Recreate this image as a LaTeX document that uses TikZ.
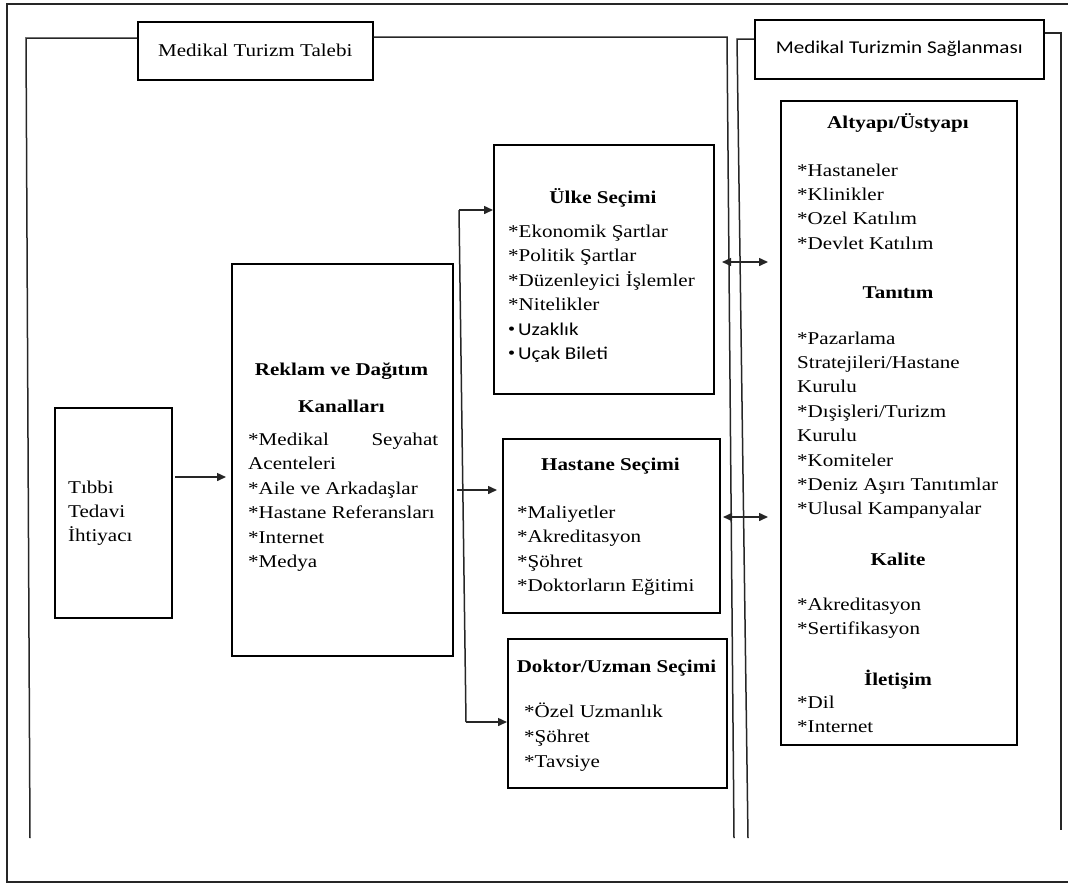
\documentclass[tikz,border=0pt]{standalone}
\usepackage{fontspec}
\setmainfont{Liberation Serif}[FakeStretch=1.17]
\newfontfamily\calsans{Carlito}[FakeStretch=1.17]
\usetikzlibrary{arrows.meta}
\tikzset{
  box/.style={draw=black, line width=1.5pt, inner sep=0pt, anchor=north west, font=\fontsize{18}{22}\selectfont},
  txt/.style={anchor=base west, inner sep=0pt, font=\fontsize{18}{22}\selectfont},
  ttl/.style={anchor=base, inner sep=0pt, font=\fontsize{18}{22}\selectfont\bfseries},
  ln/.style={line width=1.5pt, draw=black!85},
  arr/.style={ln, -{Triangle[length=9pt,width=8pt]}},
  arrtwo/.style={ln, {Triangle[length=9pt,width=8pt]}-{Triangle[length=9pt,width=8pt]}},
}
\begin{document}
\begin{tikzpicture}[x=1pt,y=-1pt]
\useasboundingbox (0,0) rectangle (1068,884);
% outer frame
\coordinate (of1) at (1075,4); \coordinate (of2) at (7,4);
\coordinate (of3) at (7,882); \coordinate (of4) at (1075,882);
\draw[ln] (of1) -- (of2) -- (of3) -- (of4);

% header boxes
\node[box, minimum width=235pt, minimum height=58pt] (talebi) at (137,21) {Medikal Turizm Talebi};
\node[box, minimum width=289pt, minimum height=59pt] (saglanma) at (754,19) {\calsans Medikal Turizmin Sağlanması};

% brackets
\coordinate (lbb) at (30,838); \coordinate (lbt) at (26,38);
\draw[ln] (lbb) -- (lbt) -- (lbt -| talebi.west);
\coordinate (lrt) at (727,37); \coordinate (lrb) at (734,838);
\draw[ln] (talebi.east |- lrt) -- (lrt) -- (lrb);
\coordinate (rlt) at (737,39); \coordinate (rlb) at (748,838);
\draw[ln] (rlb) -- (rlt) -- (rlt -| saglanma.west);
\coordinate (rrt) at (1061,33); \coordinate (rrb) at (1061,830);
\draw[ln] (saglanma.east |- rrt) -- (rrt) -- (rrb);

% boxes
\node[box, minimum width=117pt, minimum height=210pt] (tibbi) at (54,407) {};
\node[box, minimum width=221pt, minimum height=392pt] (reklam) at (231,263) {};
\node[box, minimum width=220pt, minimum height=249pt] (ulke) at (493,144) {};
\node[box, minimum width=217pt, minimum height=174pt] (hastane) at (502,438) {};
\node[box, minimum width=219pt, minimum height=149pt] (doktor) at (507,638) {};
\node[box, minimum width=236pt, minimum height=644pt] (altyapi) at (780,100) {};

% Tibbi text
\foreach \t [count=\i] in {{Tıbbi},{Tedavi},{İhtiyacı}}
  \node[txt] (tibbi-\i) at (68,{493+24*(\i-1)}) {\t};

% Reklam text
\node[ttl] (reklam-t1) at (341.5,375) {Reklam ve Dağıtım};
\node[ttl] (reklam-t2) at (341.5,412) {Kanalları};
\node[txt] (reklam-1) at (248,445) {\makebox[190pt]{*Medikal\hfill Seyahat}};
\foreach \t [count=\i from 2] in {{Acenteleri},{*Aile ve Arkadaşlar},{*Hastane Referansları},{*Internet},{*Medya}}
  \node[txt] (reklam-\i) at (248,{445+24.5*(\i-1)}) {\t};

% Ulke text
\node[ttl] (ulke-t) at (603,203) {Ülke Seçimi};
\foreach \t [count=\i] in {{*Ekonomik Şartlar},{*Politik Şartlar},{*Düzenleyici İşlemler},{*Nitelikler}}
  \node[txt] (ulke-\i) at (508,{237+24.5*(\i-1)}) {\t};
\node[txt] (ulke-5) at (508,335) {{\calsans\fontsize{12}{12}\selectfont\raisebox{3pt}{•}}\hspace{3pt}{\calsans Uzaklık}};
\node[txt] (ulke-6) at (508,359.5) {{\calsans\fontsize{12}{12}\selectfont\raisebox{3pt}{•}}\hspace{3pt}{\calsans Uçak Bileti}};

% Hastane text
\node[ttl] (hastane-t) at (610.5,470) {Hastane Seçimi};
\foreach \t [count=\i] in {{*Maliyetler},{*Akreditasyon},{*Şöhret},{*Doktorların Eğitimi}}
  \node[txt] (hastane-\i) at (517,{518+24.5*(\i-1)}) {\t};

% Doktor text
\node[ttl] (doktor-t) at (616.5,672) {Doktor/Uzman Seçimi};
\foreach \t [count=\i] in {{*Özel Uzmanlık},{*Şöhret},{*Tavsiye}}
  \node[txt] (doktor-\i) at (524,{717+25*(\i-1)}) {\t};

% Altyapi text
\node[ttl] (alt-t1) at (898,128) {Altyapı/Üstyapı};
\foreach \t [count=\i] in {{*Hastaneler},{*Klinikler},{*Ozel Katılım},{*Devlet Katılım}}
  \node[txt] (alt-a\i) at (797,{176+24.4*(\i-1)}) {\t};
\node[ttl] (alt-t2) at (898,298) {Tanıtım};
\foreach \t [count=\i] in {{*Pazarlama},{Stratejileri/Hastane},{Kurulu},{*Dışişleri/Turizm},{Kurulu},{*Komiteler},{*Deniz Aşırı Tanıtımlar},{*Ulusal Kampanyalar}}
  \node[txt] (alt-b\i) at (797,{344+24.4*(\i-1)}) {\t};
\node[ttl] (alt-t3) at (898,565) {Kalite};
\foreach \t [count=\i] in {{*Akreditasyon},{*Sertifikasyon}}
  \node[txt] (alt-c\i) at (797,{610+24.4*(\i-1)}) {\t};
\node[ttl] (alt-t4) at (898,685) {İletişim};
\foreach \t [count=\i] in {{*Dil},{*Internet}}
  \node[txt] (alt-d\i) at (797,{708+24*(\i-1)}) {\t};

% arrows
\coordinate (a1) at (175,477);
\draw[arr, shorten >=5pt] (a1) -- (a1 -| reklam.west);
\coordinate (dtop) at (459,210); \coordinate (dbot) at (466,722);
\draw[ln] (dtop) -- (dbot);
\draw[arr] (dtop) -- (dtop -| ulke.west);
\coordinate (rk) at (457,490);
\draw[arr, shorten >=5pt] (rk) -- (rk -| hastane.west);
\draw[arr] (dbot) -- (dbot -| doktor.west);
\coordinate (da) at (722,262);
\draw[arrtwo, shorten >=12pt] (da) -- (da -| altyapi.west);
\coordinate (db) at (723,517);
\draw[arrtwo, shorten >=12pt] (db) -- (db -| altyapi.west);
\end{tikzpicture}
\end{document}
